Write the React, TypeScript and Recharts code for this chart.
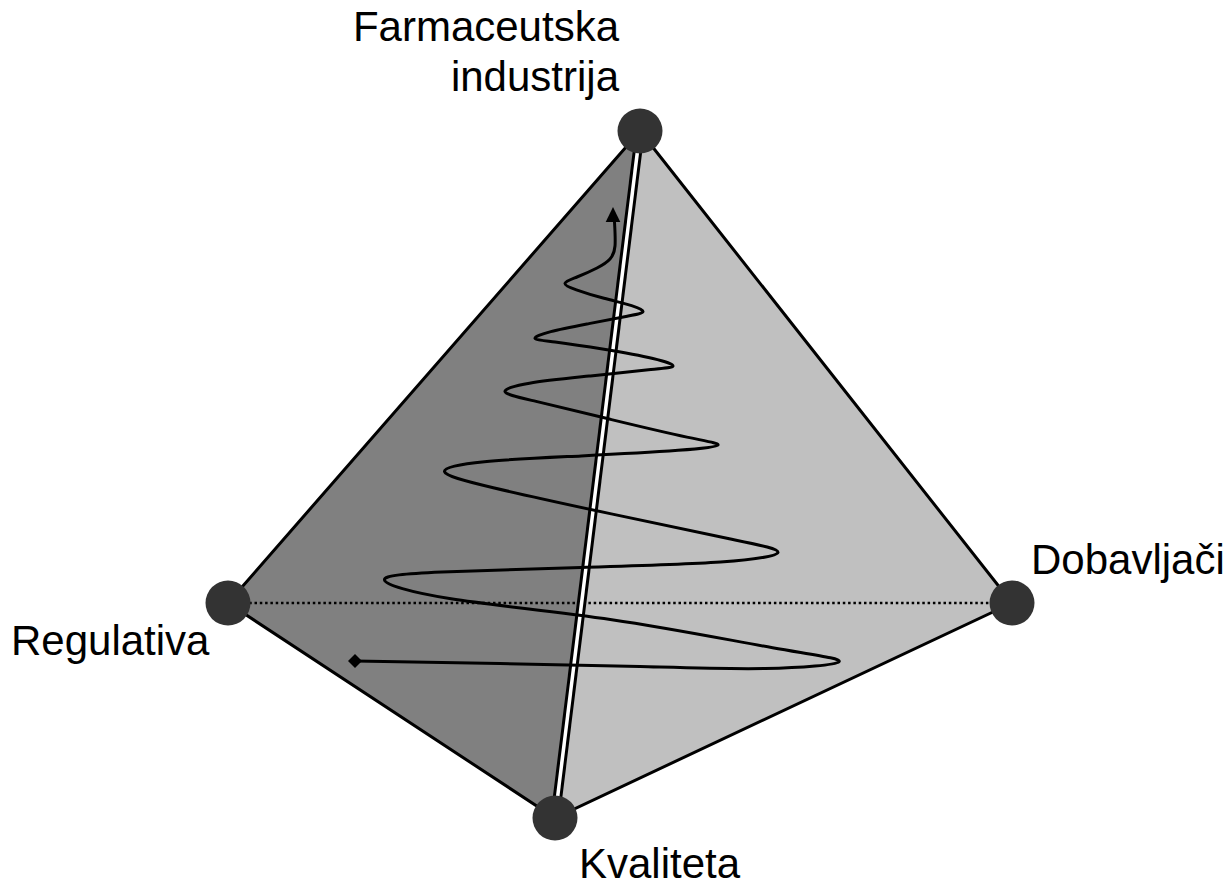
import React from "react";
import { ComposedChart, XAxis, YAxis, Area, Line, Scatter } from "recharts";

const W = 1231;
const H = 887;

// Vertices of the pyramid (diagram units = page pixels)
const vertexNames = ["Farmaceutska industrija", "Regulativa", "Kvaliteta", "Dobavljači"];
const vertexX = [640, 228, 555, 1012];
const vertexY = [131, 603, 818, 603];

// Labels
const labelTexts = ["Farmaceutska", "industrija", "Regulativa", "Dobavljači", "Kvaliteta"];
const labelX = [619, 619, 11, 1031, 579];
const labelY = [41, 91, 655, 574, 878];
const labelAnchor = ["end", "end", "start", "start", "start"];

// Spiral path: diamond -> loops (tips and points along each leg) -> arrow
const spiral: [number, number][] = [
  [355, 661], [500, 663.5], [640, 666.5], [765, 668.5],
  [839, 661.7], // right tip 1
  [772.6, 647.7], [611.8, 619.7], [451, 598.8],
  [384.5, 580], // left tip 1
  [442, 572], [581, 567.4], [720.5, 562],
  [778, 552.3], // right tip 2
  [729.3, 538.8], [611.3, 513.9], [493.3, 487.8],
  [444.5, 471.7], // left tip 2
  [484.4, 461.7], [581.3, 455.9], [678.1, 450.3],
  [718, 445], // right tip 3
  [686.9, 437.1], [611.5, 419.6], [536.1, 401.4],
  [505, 391.7], // left tip 3
  [529.5, 383.2], [589, 376.1], [648.5, 369.8],
  [673, 366], // right tip 4
  [652.9, 358.5], [604, 349.3], [555.1, 342],
  [535, 338.3], // left tip 4
  [550.8, 331.6], [589, 323.6], [627.2, 316.2],
  [643, 311.7], // right tip 5
  [631.6, 305.6], [604, 298.3], [576.4, 289.8],
  [565, 283.3], // left tip 5
  [577, 277], [597, 268], [610, 259], [615, 246], [614.5, 222],
];

const arrowTip = { x: 613, y: 207 };
const startMark = { x: 355, y: 661 };

// ---- derived series ----
const vertices = vertexNames.map((name, i) => ({ name, x: vertexX[i], y: vertexY[i] }));
const [T, L, B, R] = vertices;
const yOn = (a: { x: number; y: number }, b: { x: number; y: number }, x: number) =>
  a.y + ((x - a.x) * (b.y - a.y)) / (b.x - a.x);

const faceData = [
  { x: L.x, dark: [L.y, L.y] },
  { x: B.x, dark: [yOn(L, T, B.x), B.y], light: [B.y, B.y] },
  { x: T.x, dark: [T.y, T.y], light: [T.y, yOn(B, R, T.x)] },
  { x: R.x, light: [R.y, R.y] },
];

const outline = [T, L, B, R, T].map((v) => ({ x: v.x, y: v.y }));
const ridge = [T, B].map((v) => ({ x: v.x, y: v.y }));
const dotted = [L, R].map((v) => ({ x: v.x, y: v.y }));
const spiralData = spiral.map(([x, y]) => ({ x, y }));
const labels = labelTexts.map((text, i) => ({ text, x: labelX[i], y: labelY[i], anchor: labelAnchor[i] }));

const FONT = "'Liberation Sans', Arial, Helvetica, sans-serif";

const CircleShape = (p: any) => <circle cx={p.cx} cy={p.cy} r={22.5} fill="#333333" />;
const DiamondShape = (p: any) => (
  <polygon
    points={`${p.cx - 7},${p.cy} ${p.cx},${p.cy - 7} ${p.cx + 7},${p.cy} ${p.cx},${p.cy + 7}`}
    fill="#000"
  />
);
const ArrowShape = (p: any) => (
  <polygon points={`${p.cx},${p.cy} ${p.cx - 7.3},${p.cy + 15} ${p.cx + 7.3},${p.cy + 15}`} fill="#000" />
);
const TextShape = (p: any) => (
  <text x={p.cx} y={p.cy} textAnchor={p.payload.anchor} fontFamily={FONT} fontSize={42} fill="#000">
    {p.payload.text}
  </text>
);

export default function App() {
  return (
    <div style={{ position: "absolute", left: 0, top: 0, width: W, height: H, background: "#fff" }}>
      <ComposedChart width={W} height={H} data={faceData} margin={{ top: 0, right: 0, bottom: 0, left: 0 }}>
        <XAxis type="number" dataKey="x" domain={[0, W]} hide allowDataOverflow />
        <YAxis type="number" dataKey="y" domain={[0, H]} hide reversed allowDataOverflow />
        <Area dataKey="dark" type="linear" fill="#808080" fillOpacity={1} stroke="none" isAnimationActive={false} />
        <Area dataKey="light" type="linear" fill="#c0c0c0" fillOpacity={1} stroke="none" isAnimationActive={false} />
        <Line data={dotted} dataKey="y" type="linear" stroke="#000" strokeWidth={2.5} strokeDasharray="2.5 2.8" dot={false} activeDot={false} isAnimationActive={false} />
        <Line data={outline} dataKey="y" type="linear" stroke="#000" strokeWidth={3} dot={false} activeDot={false} isAnimationActive={false} />
        <Line data={ridge} dataKey="y" type="linear" stroke="#000" strokeWidth={9.5} dot={false} activeDot={false} isAnimationActive={false} />
        <Line data={ridge} dataKey="y" type="linear" stroke="#fff" strokeWidth={3.5} dot={false} activeDot={false} isAnimationActive={false} />
        <Line data={spiralData} dataKey="y" type="natural" stroke="#000" strokeWidth={3} dot={false} activeDot={false} isAnimationActive={false} />
        <Scatter data={[startMark]} shape={DiamondShape} isAnimationActive={false} />
        <Scatter data={[arrowTip]} shape={ArrowShape} isAnimationActive={false} />
        <Scatter data={vertices} shape={CircleShape} isAnimationActive={false} />
        <Scatter data={labels} shape={TextShape} isAnimationActive={false} />
      </ComposedChart>
    </div>
  );
}
